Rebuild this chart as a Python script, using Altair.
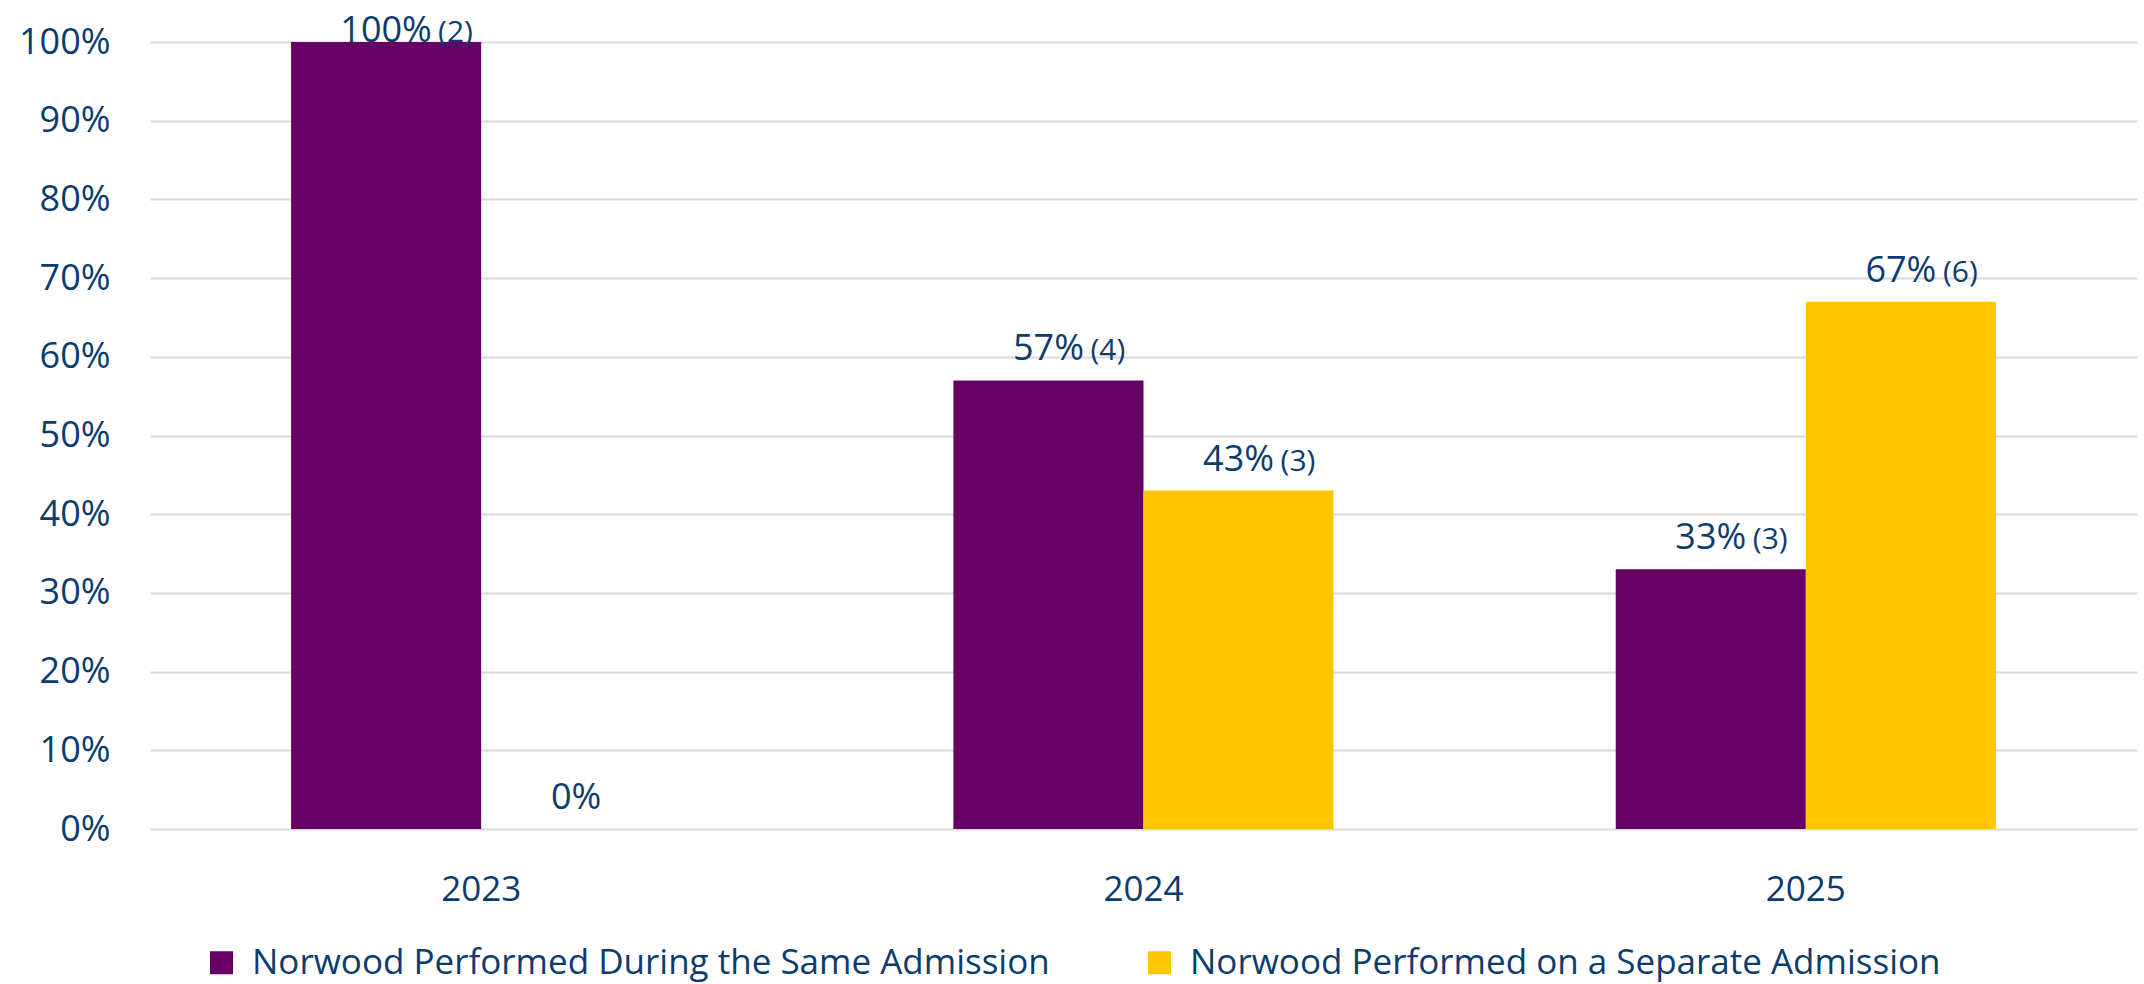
import altair as alt
import pandas as pd

years = ["2023", "2024", "2025"]
series = ["Norwood Performed During the Same Admission",
          "Norwood Performed on a Separate Admission"]
same_pct = [1.00, 0.57, 0.33]
separate_pct = [0.00, 0.43, 0.67]
same_counts = ["(2)", "(4)", "(3)"]
separate_counts = ["", "(3)", "(6)"]
colors = ["#660066", "#FFC600"]
y_ticks = [0, 0.1, 0.2, 0.3, 0.4, 0.5, 0.6, 0.7, 0.8, 0.9, 1.0]

TEXT = "#0C3C6E"
FONT = "Open Sans"

rows = []
for i, yr in enumerate(years):
    rows.append({"year": yr, "series": series[0], "pct": same_pct[i], "count": same_counts[i]})
    rows.append({"year": yr, "series": series[1], "pct": separate_pct[i], "count": separate_counts[i]})
df = pd.DataFrame(rows)

yscale = alt.Scale(domain=[0, 1], nice=False)
yaxis = alt.Axis(title=None, values=y_ticks, format=".0%",
                 ticks=False, domain=False, labelFontSize=36,
                 labelColor=TEXT, labelFont=FONT, labelPadding=40,
                 gridColor="#D9D9D9", gridWidth=2)

base = alt.Chart(df).encode(
    x=alt.X("year:N", sort=years,
            scale=alt.Scale(paddingInner=0.426, paddingOuter=0.213),
            axis=alt.Axis(title=None, labelAngle=0, ticks=False, domain=False,
                          labelFontSize=35, labelColor=TEXT, labelFont=FONT,
                          labelPadding=43)),
    xOffset=alt.XOffset("series:N", sort=series,
                        scale=alt.Scale(paddingInner=0, paddingOuter=0)),
)

bars = base.mark_bar().encode(
    y=alt.Y("pct:Q", scale=yscale, axis=yaxis, title=None),
    color=alt.Color("series:N", sort=series,
                    scale=alt.Scale(domain=series, range=colors),
                    legend=alt.Legend(orient="none", legendX=54, legendY=903,
                                      direction="horizontal", title=None,
                                      symbolType="square", symbolSize=529,
                                      symbolStrokeWidth=0, labelFontSize=35,
                                      labelColor=TEXT, labelFont=FONT,
                                      labelOffset=13, columnPadding=92,
                                      labelLimit=1000)),
)

lab = base.transform_calculate(
    label_y="min(datum.pct, 0.975)",
    pct_label="format(datum.pct, '.0%')",
)

pct_text = lab.mark_text(baseline="alphabetic", dy=-20, fontSize=36,
                         color=TEXT, font=FONT).encode(
    y=alt.Y("label_y:Q", scale=yscale, axis=yaxis, title=None),
    text="pct_label:N",
)

cnt_wide = lab.transform_filter("datum.count != '' && length(datum.pct_label) == 4").mark_text(
    baseline="alphabetic", align="left", dy=-20, dx=52, fontSize=30,
    color=TEXT, font=FONT).encode(
    y=alt.Y("label_y:Q", scale=yscale, axis=yaxis, title=None),
    text="count:N",
)

cnt_narrow = lab.transform_filter("datum.count != '' && length(datum.pct_label) < 4").mark_text(
    baseline="alphabetic", align="left", dy=-20, dx=42, fontSize=30,
    color=TEXT, font=FONT).encode(
    y=alt.Y("label_y:Q", scale=yscale, axis=yaxis, title=None),
    text="count:N",
)

chart = alt.layer(bars, pct_text, cnt_wide, cnt_narrow).properties(
    width=1987, height=787,
    autosize=alt.AutoSizeParams(type="none"),
    padding={"left": 150, "top": 42, "right": 7, "bottom": 155},
    background="white",
).configure(font=FONT).configure_view(strokeWidth=0)

chart.save("out.html", embed_options={"renderer": "svg", "actions": False})
